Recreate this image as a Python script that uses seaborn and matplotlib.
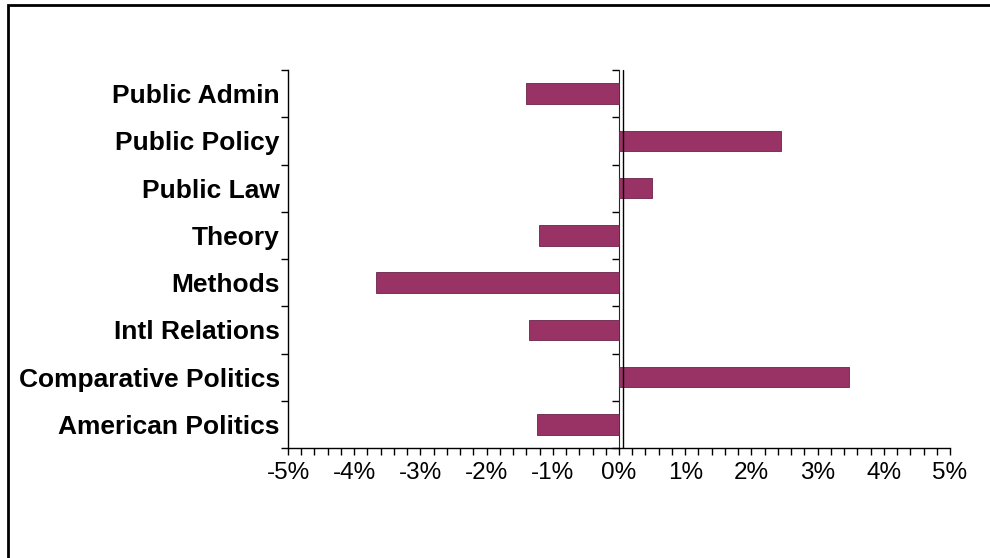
import numpy as np
import pandas as pd
import matplotlib
matplotlib.use("Agg")
import matplotlib.pyplot as plt
import matplotlib.ticker as mticker
from matplotlib.patches import Rectangle
import seaborn as sns

categories = ["Public Admin", "Public Policy", "Public Law", "Theory", "Methods",
              "Intl Relations", "Comparative Politics", "American Politics"]
values = [-1.41, 2.45, 0.50, -1.21, -3.67, -1.36, 3.47, -1.24]
x_ticks = [-5, -4, -3, -2, -1, 0, 1, 2, 3, 4, 5]

sns.set_style("white")
plt.rcParams["font.family"] = ["Liberation Sans", "DejaVu Sans"]
plt.rcParams["text.color"] = "black"
plt.rcParams["xtick.color"] = "black"
plt.rcParams["ytick.color"] = "black"
plt.rcParams["axes.labelcolor"] = "black"

df = pd.DataFrame({"category": categories, "value": values})

fig = plt.figure(figsize=(9.9, 5.58), dpi=100)
ax = fig.add_axes([288 / 990, 1 - 448 / 558, (950 - 288) / 990, 378 / 558])

sns.barplot(data=df, x="value", y="category", order=categories, orient="h",
            color="#993366", saturation=1, width=0.43, ax=ax,
            edgecolor="#6b2347", linewidth=0.6)

ax.set_xlim(-5, 5)
ax.set_ylim(7.5, -0.5)
ax.set_xlabel("")
ax.set_ylabel("")

ax.set_xticks(x_ticks)
ax.xaxis.set_major_formatter(mticker.FuncFormatter(lambda v, p: f"{int(round(v))}%"))
ax.xaxis.set_minor_locator(mticker.MultipleLocator(0.2))
ax.tick_params(axis="x", which="both", direction="out", length=5, width=1,
               color="black", bottom=True, labelsize=17.5, pad=5, labelcolor="black")

ax.set_yticks(range(len(categories)))
ax.set_yticklabels(categories, fontweight="bold", fontsize=19, color="black")
ax.yaxis.set_minor_locator(mticker.FixedLocator(np.arange(-0.5, len(categories), 1)))
ax.tick_params(axis="y", which="major", length=0, pad=6)
ax.tick_params(axis="y", which="minor", direction="out", length=5, width=1,
               color="black", left=True)

for s in ["top", "right"]:
    ax.spines[s].set_visible(False)
for s in ["left", "bottom"]:
    ax.spines[s].set_color("black")
    ax.spines[s].set_linewidth(1)

# category axis crossing at 0
sec = ax.secondary_yaxis(0.5)
sec.set_yticks(np.arange(-0.5, len(categories), 1))
sec.set_yticklabels([])
sec.tick_params(axis="y", which="both", direction="out", length=5, width=1,
                color="black", left=True, right=False)
sec.spines["left"].set_linewidth(1)
ax.axvline(0.06, color="black", lw=1, zorder=3)

fig.patches.append(Rectangle((8 / 990, -0.2), 1.2, 1 - 5 / 558 + 0.2,
                             transform=fig.transFigure, fill=False,
                             edgecolor="black", lw=2))

fig.savefig("out.png", dpi=100)
